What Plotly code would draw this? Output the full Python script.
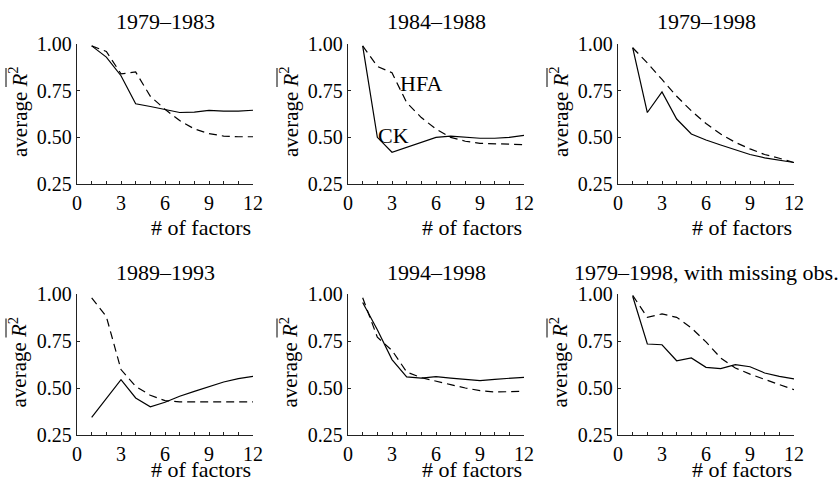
import plotly.graph_objects as go

factors = [1, 2, 3, 4, 5, 6, 7, 8, 9, 10, 11, 12]

titles = ["1979\u20131983", "1984\u20131988", "1979\u20131998",
          "1989\u20131993", "1994\u20131998", "1979\u20131998, with missing obs."]

ck_7983 = [0.99, 0.93, 0.83, 0.68, 0.665, 0.647, 0.633, 0.635, 0.644, 0.64, 0.64, 0.645]
hfa_7983 = [0.99, 0.96, 0.84, 0.85, 0.72, 0.65, 0.59, 0.545, 0.52, 0.507, 0.503, 0.503]

ck_8488 = [0.99, 0.50, 0.42, 0.447, 0.475, 0.50, 0.507, 0.502, 0.495, 0.495, 0.50, 0.51]
hfa_8488 = [0.99, 0.88, 0.846, 0.686, 0.606, 0.544, 0.50, 0.479, 0.468, 0.465, 0.461, 0.461]

ck_7998 = [0.98, 0.633, 0.743, 0.598, 0.518, 0.486, 0.459, 0.433, 0.408, 0.39, 0.376, 0.365]
hfa_7998 = [0.98, 0.899, 0.81, 0.72, 0.642, 0.574, 0.518, 0.473, 0.438, 0.408, 0.388, 0.365]

ck_8993 = [0.344, 0.447, 0.544, 0.447, 0.40, 0.424, 0.456, 0.482, 0.509, 0.532, 0.55, 0.562]
hfa_8993 = [0.979, 0.88, 0.598, 0.509, 0.461, 0.433, 0.426, 0.426, 0.426, 0.426, 0.426, 0.426]

ck_9498 = [0.955, 0.81, 0.651, 0.559, 0.553, 0.56, 0.553, 0.544, 0.539, 0.546, 0.553, 0.557]
hfa_9498 = [0.98, 0.77, 0.70, 0.585, 0.555, 0.535, 0.518, 0.50, 0.486, 0.479, 0.479, 0.482]

ck_miss = [0.988, 0.734, 0.73, 0.645, 0.66, 0.61, 0.603, 0.624, 0.613, 0.58, 0.562, 0.548]
hfa_miss = [0.993, 0.876, 0.894, 0.876, 0.82, 0.745, 0.66, 0.606, 0.574, 0.544, 0.518, 0.491]

ck_series = [ck_7983, ck_8488, ck_7998, ck_8993, ck_9498, ck_miss]
hfa_series = [hfa_7983, hfa_8488, hfa_7998, hfa_8993, hfa_9498, hfa_miss]

x_minor_ticks = list(range(0, 13))
x_label_vals = [0, 3, 6, 9, 12]
x_label_text = ["0", "3", "6", "9", "12"]
y_tickvals = [0.25, 0.50, 0.75, 1.00]
y_ticktext = ["0.25", "0.50", "0.75", "1.00"]

FONT = "Liberation Serif"
W, H = 840, 479
col_px = [(77, 253), (348, 524), (618, 794)]
row_px = [(44, 184), (294, 435)]
xtitle_shift = [-43, -34]

fig = go.Figure()
annotations = []
shapes = []
for i in range(6):
    r, c = divmod(i, 3)
    n = i + 1
    m = n + 6
    xa = "xaxis" if n == 1 else f"xaxis{n}"
    ya = "yaxis" if n == 1 else f"yaxis{n}"
    xr = "x" if n == 1 else f"x{n}"
    yr = "y" if n == 1 else f"y{n}"
    x0, x1 = col_px[c]
    yt, yb = row_px[r]
    fig.add_trace(go.Scatter(x=factors, y=hfa_series[i], mode="lines",
                             line=dict(color="black", width=1.2, dash="8px,5px"),
                             xaxis=xr, yaxis=yr, showlegend=False))
    fig.add_trace(go.Scatter(x=factors, y=ck_series[i], mode="lines",
                             line=dict(color="black", width=1.2),
                             xaxis=xr, yaxis=yr, showlegend=False))
    # empty trace so the label-only axis gets drawn
    fig.add_trace(go.Scatter(x=[], y=[], mode="lines", xaxis=f"x{m}", yaxis=yr,
                             showlegend=False, hoverinfo="skip"))
    fig.layout[xa] = dict(domain=[x0 / W, x1 / W], range=[0, 12], anchor=yr,
                          showline=True, linecolor="#222", linewidth=1.2,
                          ticks="inside", ticklen=3, tickcolor="#222",
                          tickvals=x_minor_ticks, showticklabels=False,
                          showgrid=False, zeroline=False, automargin=False)
    # label-only axis placed just below the drawn axis, matching the reference spacing
    fig.layout[f"xaxis{m}"] = dict(domain=[x0 / W, x1 / W], range=[0, 12],
                                   overlaying=xr, anchor="free",
                                   position=1 - (yb + 5) / H, side="bottom",
                                   showline=False, ticks="",
                                   tickvals=x_label_vals, ticktext=x_label_text,
                                   showgrid=False, zeroline=False, automargin=False,
                                   tickfont=dict(family=FONT, size=20, color="black"))
    fig.layout[ya] = dict(domain=[1 - yb / H, 1 - yt / H], range=[0.25, 1.0], anchor=xr,
                          showline=True, linecolor="#222", linewidth=1.2,
                          ticks="inside", ticklen=3, tickcolor="#222",
                          tickvals=y_tickvals, ticktext=y_ticktext,
                          showgrid=False, zeroline=False, automargin=False,
                          tickfont=dict(family=FONT, size=20, color="black"))
    # panel title
    annotations.append(dict(text=titles[i], xref="paper", yref="paper",
                            x=(x0 + x1) / 2 / W, y=1 - (yt - 22) / H,
                            xanchor="center", yanchor="middle", showarrow=False,
                            font=dict(family=FONT, size=22, color="black")))
    # x title
    annotations.append(dict(text="# of factors", xref=f"{xr} domain", yref=f"{yr} domain",
                            x=1, y=0, yshift=xtitle_shift[r], xanchor="right", yanchor="middle",
                            showarrow=False, font=dict(family=FONT, size=22, color="black")))
    # y title
    yc = (yt + yb) / 2
    annotations.append(dict(text="average <i>R</i><sup>2</sup>", xref="paper", yref="paper",
                            x=(x0 - 59) / W, y=1 - (yc - 2) / H, textangle=-90,
                            xanchor="center", yanchor="middle", showarrow=False,
                            font=dict(family=FONT, size=21, color="black")))
    shapes.append(dict(type="line", xref="paper", yref="paper",
                       x0=(x0 - 71) / W, x1=(x0 - 71) / W,
                       y0=1 - (yc - 46) / H, y1=1 - (yc - 27) / H,
                       line=dict(color="black", width=1)))

annotations.append(dict(text="HFA", xref="x2", yref="y2", x=3.4, y=0.79,
                        xanchor="left", yanchor="middle", showarrow=False,
                        font=dict(family=FONT, size=22, color="black")))
annotations.append(dict(text="CK", xref="x2", yref="y2", x=1.9, y=0.51,
                        xanchor="left", yanchor="middle", showarrow=False,
                        font=dict(family=FONT, size=22, color="black")))

fig.update_layout(width=W, height=H, autosize=False,
                  margin=dict(l=0, r=0, t=0, b=0, pad=0, autoexpand=False),
                  paper_bgcolor="white", plot_bgcolor="white",
                  annotations=annotations, shapes=shapes,
                  font=dict(family=FONT, color="black"))

fig.write_html("out.html", config={"displayModeBar": False, "staticPlot": True},
               post_script="document.body.style.margin='0';document.body.style.overflow='hidden';")
